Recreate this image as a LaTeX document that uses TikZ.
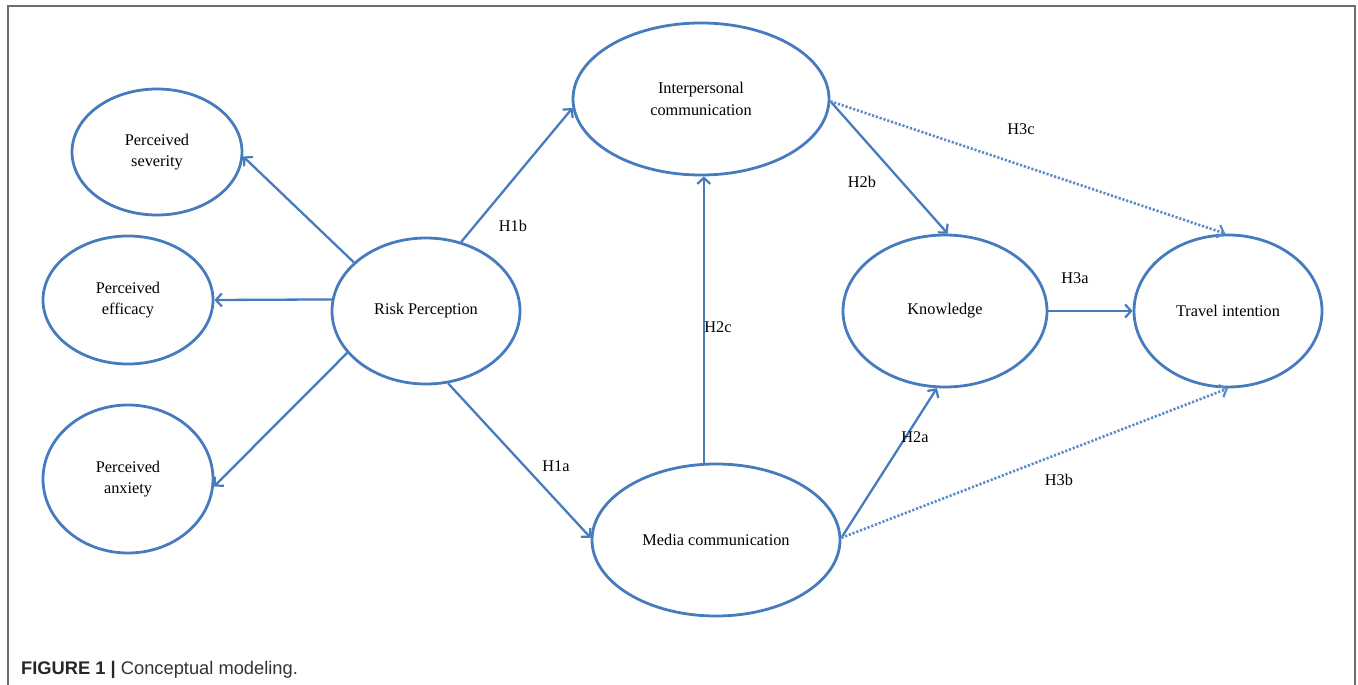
\documentclass[tikz,border=0pt]{standalone}
\usepackage{fontspec}
\setmainfont{Liberation Serif}
\newfontfamily\capfont{Liberation Sans}
\usetikzlibrary{shapes.geometric,arrows.meta}
\definecolor{eblue}{RGB}{70,124,190}
\definecolor{dblue}{RGB}{90,140,200}
\definecolor{framegray}{RGB}{110,110,110}
\definecolor{capgray}{RGB}{50,50,50}
\tikzset{
  ell/.style={draw=eblue, line width=2.8pt, ellipse, inner sep=0pt, align=center,
    font=\fontsize{16.3}{21.5}\selectfont},
  arr/.style={draw=eblue, line width=2.3pt, -{Straight Barb[length=6pt,width=13pt,line width=2.2pt]}},
  dotarr/.style={draw=dblue, line width=2.6pt, dash pattern=on 2.2pt off 1.8pt,
    -{Straight Barb[length=6pt,width=13pt,line width=2.2pt]}},
  lab/.style={font=\fontsize{16.3}{20}\selectfont, inner sep=0pt}
}
\begin{document}
\begin{tikzpicture}[x=1pt,y=-1pt]
\useasboundingbox (0,0) rectangle (1358,685);
\draw[framegray, line width=1.6pt] (8,685) -- (8,6) -- (1355,6) -- (1355,685);

\node[ell, minimum width=170pt, minimum height=126pt] (sev) at (157,152) {Perceived\\severity};
\node[ell, minimum width=170pt, minimum height=128pt] (eff) at (128,300) {Perceived\\efficacy};
\node[ell, minimum width=170pt, minimum height=148pt] (anx) at (128,479) {Perceived\\anxiety};
\node[ell, minimum width=188pt, minimum height=146pt] (risk) at (426,311) {Risk Perception};
\node[ell, minimum width=256pt, minimum height=152pt] (ip) at (701,99) {Interpersonal\\communication};
\node[ell, minimum width=248pt, minimum height=152pt] (media) at (716,540) {Media communication};
\node[ell, minimum width=204pt, minimum height=152pt] (kn) at (945,311) {Knowledge};
\node[ell, minimum width=188pt, minimum height=152pt] (tr) at (1228,311) {Travel intention};

\draw[arr] (risk.146) -- (sev.-3);
\draw[arr] (risk.173) -- (eff.0);
\draw[arr] (risk.208) -- (anx.-5);
\draw[arr] (risk.63) -- (ip.184);
\draw[arr] (risk.287) -- (media.179);
\draw[arr] (media.99) -- (media.99 |- ip.south);
\draw[arr] (ip.-1) -- (kn.88);
\draw[dotarr] (ip.-1) -- (tr.92);
\draw[arr] (media.1) -- (kn.264);
\draw[dotarr] (media.1) -- (tr.270);
\draw[arr] (kn.0) -- (tr.180);

\node[lab] (h1b) at (513,226) {H1b};
\node[lab] (h1a) at (556,466) {H1a};
\node[lab] (h2c) at (718,327) {H2c};
\node[lab] (h2b) at (862,182) {H2b};
\node[lab] (h3c) at (1021,129) {H3c};
\node[lab] (h2a) at (915,437) {H2a};
\node[lab] (h3b) at (1059,480) {H3b};
\node[lab] (h3a) at (1075,278) {H3a};

\node[anchor=base west, inner sep=0pt, text=capgray, font=\capfont\fontsize{18.3}{20}\selectfont] (cap) at (21,674) {\textbf{\color{black!85}FIGURE 1 |} Conceptual modeling.};
\end{tikzpicture}
\end{document}
